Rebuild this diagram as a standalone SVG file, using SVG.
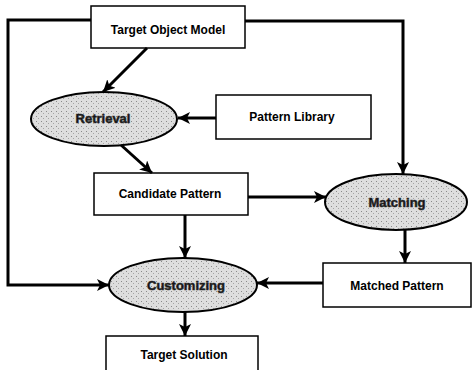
<svg xmlns="http://www.w3.org/2000/svg" width="473" height="370" viewBox="0 0 473 370">
<defs>
<style>
.box{fill:#fff;stroke:#000;stroke-width:1.5}
.ell{fill:url(#stip);stroke:#000;stroke-width:2}
.lbl{font-family:"Liberation Sans",Arial,sans-serif;font-size:12px;font-weight:bold;text-anchor:middle;fill:#000}
.elbl{font-family:"Liberation Sans",Arial,sans-serif;font-size:13px;font-weight:bold;text-anchor:middle;fill:#111;stroke:#333;stroke-width:0.6}
.con{fill:none;stroke:#000;stroke-width:3}
</style>
<pattern id="stip" width="5" height="5" patternUnits="userSpaceOnUse">
<rect width="5" height="5" fill="#dedede"/>
<rect x="1" y="1" width="1" height="1" fill="#8a8a8a"/>
<rect x="3" y="3" width="1" height="1" fill="#a5a5a5"/>
</pattern>
<marker id="arr" markerUnits="userSpaceOnUse" markerWidth="13" markerHeight="12" refX="12" refY="6" orient="auto">
<path d="M0,0 L12,6 L0,12 L3,6 Z" fill="#000"/>
</marker>
</defs>
<g id="target-object-model"><rect class="box" x="91" y="6" width="154" height="42"/><text class="lbl" x="168" y="34">Target Object Model</text></g>
<g id="retrieval"><ellipse class="ell" cx="104" cy="119" rx="73" ry="27"/><text class="elbl" x="103" y="123">Retrieval</text></g>
<g id="pattern-library"><rect class="box" x="216" y="95" width="155" height="44"/><text class="lbl" x="292" y="121">Pattern Library</text></g>
<g id="candidate-pattern"><rect class="box" x="94" y="173" width="154" height="42"/><text class="lbl" x="170" y="198">Candidate Pattern</text></g>
<g id="matching"><ellipse class="ell" cx="396" cy="202" rx="71" ry="28"/><text class="elbl" x="397" y="207">Matching</text></g>
<g id="matched-pattern"><rect class="box" x="323" y="263" width="148" height="44"/><text class="lbl" x="397" y="290">Matched Pattern</text></g>
<g id="customizing"><ellipse class="ell" cx="183" cy="285" rx="74" ry="27"/><text class="elbl" x="186" y="290">Customizing</text></g>
<g id="target-solution"><rect class="box" x="106" y="336" width="152" height="38"/><text class="lbl" x="184" y="359">Target Solution</text></g>
<g id="connectors">
<path class="con" d="M147,48 L103,92" marker-end="url(#arr)"/>
<path class="con" d="M216,118 L178,118" marker-end="url(#arr)"/>
<path class="con" d="M121,145 L152,173" marker-end="url(#arr)"/>
<path class="con" d="M245,21 H403 V174" marker-end="url(#arr)"/>
<path class="con" d="M91,20 H8 V285 H109" marker-end="url(#arr)"/>
<path class="con" d="M248,197 H326" marker-end="url(#arr)"/>
<path class="con" d="M185,215 V258" marker-end="url(#arr)"/>
<path class="con" d="M405,230 V263" marker-end="url(#arr)"/>
<path class="con" d="M323,283 H257" marker-end="url(#arr)"/>
<path class="con" d="M185,312 V336" marker-end="url(#arr)"/>
</g>
</svg>
